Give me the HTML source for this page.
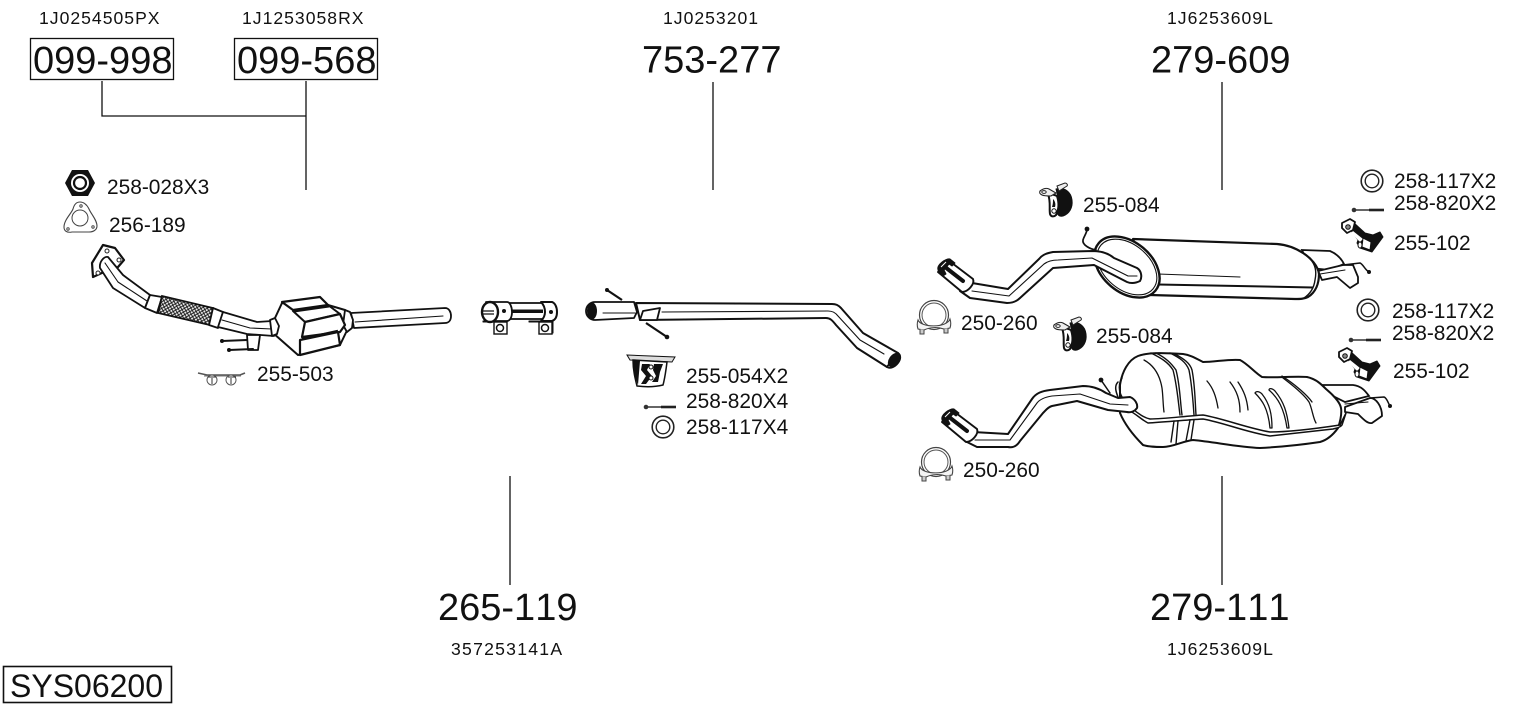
<!DOCTYPE html>
<html>
<head>
<meta charset="utf-8">
<style>
html,body{margin:0;padding:0;background:#fff;}
svg{display:block;position:absolute;left:0;top:0;}
text{font-family:"Liberation Sans",sans-serif;fill:#111;font-kerning:none;}
.s{font-size:17.6px;letter-spacing:1px;}
.m{font-size:20.9px;}
.b{font-size:38px;}
.p{fill:#fff;stroke:#111;stroke-width:1.8;stroke-linejoin:round;stroke-linecap:round;}
.t{fill:none;stroke:#111;stroke-width:1.1;stroke-linecap:round;stroke-linejoin:round;}
.h{fill:none;stroke:#111;stroke-width:2;stroke-linecap:round;stroke-linejoin:round;}
.k{fill:#111;stroke:#111;stroke-width:1;stroke-linejoin:round;}
</style>
</head>
<body>
<svg width="1530" height="711" viewBox="0 0 1530 711" xmlns="http://www.w3.org/2000/svg">
<defs>
<pattern id="mesh" width="4" height="4" patternUnits="userSpaceOnUse" patternTransform="rotate(15)">
<rect width="4" height="4" fill="#eee"/>
<path d="M0 0L4 4M4 0L0 4" stroke="#111" stroke-width=".9"/>
</pattern>
<g id="ring">
<circle r="10.8" fill="#fff" stroke="#222" stroke-width="1.6"/>
<circle r="6.8" fill="#fff" stroke="#222" stroke-width="1.4"/>
</g>
<g id="bolt">
<circle cx="0" cy="0" r="2.300" fill="#333"/>
<path d="M0 0H29" stroke="#333" stroke-width="1.6"/>
<path d="M15 0H30" stroke="#222" stroke-width="2.600"/>
</g>
<g id="hanger">
<path d="M-1 -10C8 -12 14 -7 15 1C16 9 12 15 6 17C2 18 -1 15 0 10L2 2Z" fill="#111" stroke="#111" stroke-linejoin="round"/>
<path d="M-9 -5C-5 -5 -2 -4 0 -3C2 3 2 10 -1 16C-3 18 -6 18 -7 15C-8 9 -6 3 -9 -5Z" fill="#fff" stroke="#111" stroke-width="2" stroke-linejoin="round"/>
<path d="M-4 0C-2 2 -1 5 -2 8L-5 8C-4 5 -4 3 -4 0Z" fill="#111"/>
<path d="M-17 -8C-13 -11 -10 -11 -8 -10L-1 -6L-6 -3C-9 -3 -13 -3 -15 -4C-17 -5 -18 -6 -17 -8Z" fill="#eee" stroke="#222" stroke-width="1.100"/>
<path d="M0 -13L8 -16C10 -16 11 -14 10 -13L2 -8Z" fill="#eee" stroke="#222" stroke-width="1"/>
<ellipse cx="-13" cy="-7" rx="2.200" ry="1.400" fill="#fff" stroke="#222"/>
<circle cx="-3" cy="12" r="2.200" fill="#fff" stroke="#111"/>
</g>
<g id="arm">
<path d="M-3 -10L9 1L17 3L24 0L27 5L16 20L4 16L1 11L2 8L-4 0Z" fill="#111" stroke="#111" stroke-linejoin="round"/>
<path d="M-3 -1L7 7L4 10L-5 1Z" fill="#fff"/>
<path d="M-14 -9L-6 -13L-1 -10L-3 -2L-9 1L-14 -4Z" fill="#fff" stroke="#111" stroke-width="1.800" stroke-linejoin="round"/>
<circle cx="-8" cy="-5" r="2.300" fill="#888" stroke="#111"/>
<path d="M7 6L15 10L14 18L6 15Z" fill="#fff" stroke="#111"/>
<ellipse cx="4" cy="13" rx="2" ry="3" fill="#fff" stroke="#111"/>
</g>
<g id="clamp">
<circle cx="0" cy="0" r="14.500" fill="#fff" stroke="#444" stroke-width="1.200"/>
<circle cx="0" cy="0" r="12" fill="#fff" stroke="#555" stroke-width="1"/>
<path d="M-16 5C-17 8 -17 11 -16 14L-10 15C-4 12 4 12 10 14L16 13C17 10 17 7 16 4C13 13 -13 13 -16 5Z" fill="#f4f4f4" stroke="#444" stroke-width="1.100"/>
<path d="M-14 14V19H-10V15M10 14V18H14V13" fill="#ccc" stroke="#444"/>
</g>
<g id="tip">
<path d="M948 260L973 279C975 284 968 292 962 292L938 272Z" fill="#fff" stroke="#111" stroke-width="1.900" stroke-linejoin="round"/>
<path d="M938 270C936 265 946 258 950 259L955 263L952 266L949 264L944 270L946 274L943 276Z" fill="#111" stroke="#111" stroke-linejoin="round"/>
<path d="M945 267L963 281" stroke="#111" stroke-width="4" stroke-linecap="round"/>
<path d="M941 267L946 262" stroke="#fff" stroke-width="1"/>
</g>
</defs>

<rect width="1530" height="711" fill="#fff"/>

<!-- connectors -->
<path d="M102 81V116H306M306 81V190M713 82V190M1222 82V190M510 476V585M1222 476V585" fill="none" stroke="#111" stroke-width="1.300"/>
<rect x="30.500" y="38.500" width="143" height="41" fill="none" stroke="#111" stroke-width="1.300"/>
<rect x="234.500" y="38.500" width="143" height="41" fill="none" stroke="#111" stroke-width="1.300"/>
<rect x="3.500" y="666.500" width="168" height="36" fill="none" stroke="#111" stroke-width="1.600"/>

<!-- big labels -->
<text class="b" x="33" y="73">099-998</text>
<text class="b" x="237" y="73">099-568</text>
<text class="b" x="642" y="72.500">753-277</text>
<text class="b" x="1151" y="72.500">279-609</text>
<text class="b" x="438" y="620">265-119</text>
<text class="b" x="1150" y="620">279-111</text>
<text x="10" y="697" style="font-size:32px">SYS06200</text>

<!-- small labels -->
<text class="s" x="39" y="24">1J0254505PX</text>
<text class="s" x="242" y="24">1J1253058RX</text>
<text class="s" x="663" y="24">1J0253201</text>
<text class="s" x="1167" y="24">1J6253609L</text>
<text class="s" x="451" y="655" style="letter-spacing:1.250px">357253141A</text>
<text class="s" x="1167" y="655">1J6253609L</text>

<!-- part labels -->
<text class="m" x="107" y="194">258-028X3</text>
<text class="m" x="109" y="232">256-189</text>
<text class="m" x="257" y="381">255-503</text>
<text class="m" x="686" y="383">255-054X2</text>
<text class="m" x="686" y="408">258-820X4</text>
<text class="m" x="686" y="434">258-117X4</text>
<text class="m" x="1083" y="212">255-084</text>
<text class="m" x="1096" y="343">255-084</text>
<text class="m" x="961" y="330">250-260</text>
<text class="m" x="963" y="477">250-260</text>
<text class="m" x="1394" y="188">258-117X2</text>
<text class="m" x="1394" y="210">258-820X2</text>
<text class="m" x="1394" y="250">255-102</text>
<text class="m" x="1392" y="318">258-117X2</text>
<text class="m" x="1392" y="340">258-820X2</text>
<text class="m" x="1393" y="378">255-102</text>

<!-- nut -->
<path d="M65 183L72 170H88L95 183L88 196H72Z" fill="#111"/>
<circle cx="80" cy="183" r="9" fill="#fff"/>
<circle cx="80" cy="183" r="6" fill="none" stroke="#111" stroke-width="2.200"/>

<!-- gasket -->
<path d="M80 202C84 202 87 205 89 209C91 214 97 220 97 226C97 230 93 232 89 232H72C67 233 64 231 64 227C64 220 71 214 73 209C74 205 76 202 80 202Z" fill="#fff" stroke="#444" stroke-width="1.100"/>
<circle cx="80" cy="218" r="8" fill="none" stroke="#444"/>
<circle cx="81" cy="206" r="1.200" fill="none" stroke="#444"/>
<circle cx="68" cy="229" r="1.200" fill="none" stroke="#444"/>
<circle cx="93" cy="227" r="1.200" fill="none" stroke="#444"/>

<!-- front pipe -->
<path d="M93 277L92 263L103 245L115 248L124 260L118 267L104 272Z" fill="#fff" stroke="#111" stroke-width="2.200" stroke-linejoin="round"/>
<circle cx="107" cy="251" r="2" fill="#fff" stroke="#222"/>
<circle cx="119" cy="260" r="2" fill="#fff" stroke="#222"/>
<circle cx="98" cy="273" r="2" fill="#fff" stroke="#222"/>
<path class="p" d="M108 257L123 275L150 295L145 308L113 288L100 268C99 262 104 256 108 257Z"/>
<path class="t" d="M105 263L118 282L147 301"/>
<path class="p" d="M150 295L162 297L157 313L145 308Z"/>
<path d="M162 296L213 308L210 325L158 313Z" fill="url(#mesh)" stroke="#111" stroke-width="1.800"/>
<path class="p" d="M213 308L223 312L218 328L209 325Z"/>
<path class="p" d="M223 312L257 322L272 321L274 336L247 334L218 327Z"/>
<path class="t" d="M222 320L250 328L272 329"/>
<path class="p" d="M247 335H260L258 350H248Z"/>
<path class="h" d="M222 341L247 340M229 350L253 349"/>
<circle cx="222" cy="341" r="2" fill="#111"/><circle cx="229" cy="350" r="2" fill="#111"/>

<!-- outlet pipe -->
<path class="p" d="M351 313L445 308C449 308 451 312 451 316C451 320 449 323 445 323L354 328Z"/>
<path class="t" d="M355 322L443 316"/>
<!-- catalyst -->
<path class="p" d="M275 318L282 303L328 305L345 310L352 320L340 345L298 355L273 333Z" style="stroke-width:2"/>
<path class="p" d="M270 320L275 318L279 326L277 334L272 336Z"/>
<path class="p" d="M345 310L350 312L353 320L352 328L347 332L343 325Z"/>
<path class="p" d="M282 302L320 297L328 305L293 310Z" style="stroke-width:2.200"/>
<path class="p" d="M293 311L328 305L340 314L305 322Z" style="stroke-width:2"/>
<path class="p" d="M305 322L340 314L345 325L340 332L302 337Z" style="stroke-width:2.200"/>
<path class="k" d="M293 310L328 305L329 307L294 312Z"/>
<path class="p" d="M300 340L338 332L340 345L300 355Z" style="stroke-width:2.200"/>
<path d="M302 339L338 331" stroke="#111" stroke-width="2.500"/>

<!-- 255-503 -->
<path d="M198 373L207 375H240L245 373" fill="none" stroke="#555" stroke-width="1.600"/>
<path d="M204 376H241" stroke="#777" stroke-width="1"/>
<circle cx="212" cy="380" r="5" fill="#fff" stroke="#555"/>
<circle cx="231" cy="380" r="5" fill="#fff" stroke="#555"/>
<path d="M208 377H216M228 377H236M212 378V384M231 378V384" stroke="#333"/>

<!-- pipe clamp -->
<path d="M483 322H497V333H507V321H483Z" class="k"/>
<path d="M529 322H541V333H553V321H529Z" class="k"/>
<path d="M508 303H545V319H508Z" fill="#fff" stroke="#111" stroke-width="1.800"/>
<rect x="508" y="309.500" width="35" height="3.500" fill="#111"/>
<path class="p" d="M486 302H507C510 302 512 307 512 312C512 317 510 321 507 321H486Z"/>
<ellipse cx="490" cy="312" rx="8" ry="10" fill="#fff" stroke="#111" stroke-width="2.400"/>
<path d="M482 311H494M482 314H494" stroke="#111" stroke-width="1.300"/>
<path class="p" d="M541 302H552C555 303 557 307 557 312C557 317 555 320 552 321H541C544 318 545 315 545 312C545 308 544 305 541 302Z" style="stroke-width:2"/>
<circle cx="504" cy="311" r="2" fill="#111"/><circle cx="551" cy="312" r="2" fill="#111"/>
<rect x="494" y="322" width="13" height="12" fill="#fff" stroke="#111" stroke-width="1.400"/>
<circle cx="500" cy="328" r="3.500" fill="#fff" stroke="#111" stroke-width="1.500"/>
<rect x="539" y="322" width="13" height="12" fill="#fff" stroke="#111" stroke-width="1.400"/>
<circle cx="545" cy="328" r="3.500" fill="#fff" stroke="#111" stroke-width="1.500"/>

<!-- intermediate pipe -->
<path d="M607 290L622 300" stroke="#111" stroke-width="2.200"/>
<path d="M646 323L667 337" stroke="#111" stroke-width="2.200"/>
<circle cx="607" cy="290" r="2" fill="#111"/><circle cx="667" cy="337" r="2.300" fill="#111"/>
<path class="p" d="M636 303L832 304C836 304 838 305 841 308L863 333L898 353L887 367L857 348L836 325C832 320 830 318 826 318L640 320Z" style="stroke-width:2"/>
<path class="t" d="M662 312L828 311C832 311 835 312 838 316L860 340L884 354"/>
<path class="p" d="M595 302H634L637 312L634 318L595 320C590 320 586 316 586 311C586 306 590 302 595 302Z" style="stroke-width:1.800"/>
<path class="t" d="M603 313H635"/>
<ellipse cx="592" cy="311" rx="5" ry="8.500" fill="#111"/>
<path class="p" d="M643 311L660 308L657 320L640 320Z"/>
<path class="p" d="M887 367C890 369 895 367 898 363C901 359 901 355 898 353Z"/>
<ellipse cx="894" cy="360" rx="5" ry="8" transform="rotate(35 894 360)" fill="#111"/>

<!-- 255-054 -->
<path d="M627 355L675 357L672 362L630 360Z" fill="#ddd" stroke="#111"/>
<path d="M633 360L667 362C666 370 665 378 663 385C655 387 645 387 637 386C635 378 633 370 633 360Z" fill="#fff" stroke="#111" stroke-width="1.500"/>
<path d="M633 360L640 361L638 385C635 378 633 370 633 360Z" fill="#111"/>
<path d="M642 364H650L647 370L652 376L646 384H641L646 376L641 370ZM654 364H663L660 372L658 382H652L656 376L653 370Z" fill="#111"/>
<circle cx="651" cy="367" r="2" fill="#fff" stroke="#111"/>
<circle cx="651" cy="378" r="2" fill="#fff" stroke="#111"/>

<use href="#bolt" x="646" y="407"/>
<use href="#ring" x="663" y="427"/>

<!-- upper rear muffler -->
<path d="M1302 250L1330 251C1337 254 1341 258 1344 264L1330 270L1310 268Z" fill="#fff" stroke="#111" stroke-width="1.800"/>
<path class="p" d="M1318 271L1343 265H1353L1358 277L1358 283L1350 288L1337 277L1322 280Z"/>
<path class="t" d="M1320 274L1345 270"/>
<path class="h" d="M1343 265L1360 263C1363 264 1365 270 1369 272" style="stroke-width:1.500"/>
<circle cx="1369" cy="272" r="2" fill="#111"/>
<path d="M1133 239L1277 244C1289 245 1297 249 1303 253C1311 258 1318 266 1319 274C1319 283 1316 292 1308 297C1304 299 1300 299 1295 299L1150 295Z" fill="#fff" stroke="#111" stroke-width="2.200" stroke-linejoin="round"/>
<path class="t" d="M1158 274C1190 275 1215 276 1240 277"/>
<path d="M1158 284.500L1313 287.500" stroke="#111" stroke-width="2"/>
<path d="M1302 252C1312 259 1318 266 1315 280C1314 288 1310 294 1304 298" fill="none" stroke="#111" stroke-width="1.400"/>
<ellipse cx="1127" cy="267" rx="37" ry="25" transform="rotate(40 1127 267)" fill="#fff" stroke="#111" stroke-width="2.400"/>
<ellipse cx="1127" cy="267" rx="34" ry="22.500" transform="rotate(40 1127 267)" fill="none" stroke="#111" stroke-width="1.100"/>
<path class="h" d="M1087 229C1087 233 1084 236 1083 240C1082 245 1090 249 1096 250" style="stroke-width:1.700"/>
<circle cx="1087" cy="229" r="2.400" fill="#111"/>
<path class="p" d="M972 283L1008 289L1039 259C1043 254 1048 253 1053 252L1093 251C1100 251 1108 253 1114 258L1137 268C1142 271 1142 278 1140 281C1136 283 1132 284 1127 282L1094 265L1053 268L1020 298C1016 302 1011 303 1007 303L970 298L960 291Z" style="stroke-width:2"/>
<path class="t" d="M972 291L1009 296L1044 264C1048 261 1052 260 1058 260L1092 258L1128 276L1137 276"/>
<use href="#tip"/>

<!-- lower rear muffler -->
<path d="M1318 385H1353C1362 386 1366 392 1369 396L1345 402L1325 392Z" fill="#fff" stroke="#111" stroke-width="1.800"/>
<path class="p" d="M1345 407L1370 398C1376 398 1382 406 1382 416L1372 423C1368 424 1364 420 1358 414L1345 412Z"/>
<path class="t" d="M1345 404L1368 402"/>
<path class="h" d="M1370 398L1384 397C1387 398 1388 403 1390 406" style="stroke-width:1.500"/>
<circle cx="1390" cy="406" r="2" fill="#111"/>
<path d="M1120 385C1122 372 1128 360 1138 356C1148 352 1168 353 1183 354C1191 355 1197 359 1203 362C1215 362 1228 359 1240 360C1248 364 1255 373 1262 377C1275 378 1295 376 1307 377C1316 379 1321 384 1326 389C1332 394 1340 402 1341 408C1342 414 1340 422 1338 428C1333 435 1327 440 1320 442C1300 445 1280 447 1260 448C1237 447 1215 442 1193 440C1183 441 1173 447 1163 447C1156 447 1149 447 1143 445C1135 437 1125 425 1120 413Z" fill="#fff" stroke="#111" stroke-width="2" stroke-linejoin="round"/>
<path class="p" d="M1132 408C1138 414 1145 418 1150 419C1165 419 1185 416 1203 415C1225 419 1247 428 1270 432C1290 432 1320 428 1340 425L1346 413L1342 425C1340 428 1336 428 1333 429L1270 436C1245 432 1225 423 1203 419C1185 420 1165 422 1148 423C1142 420 1136 414 1130 411Z" style="stroke-width:1.500"/>
<path class="h" d="M1151 353C1161 358 1168 362 1173 370C1177 385 1178 400 1180 415M1156 353C1166 358 1171 363 1176 370C1180 385 1180 400 1182 415M1170 353C1180 358 1186 362 1189 370C1192 385 1193 400 1194 415M1175 354C1184 359 1190 363 1192 370C1195 385 1195 400 1196 415" style="stroke-width:1.400"/>
<path class="h" d="M1174 421L1171 442M1178 421L1176 444M1190 420L1186 441M1194 420L1191 440" style="stroke-width:1.400"/>
<path class="h" d="M1144 360C1155 366 1160 376 1162 388C1163 395 1163 405 1164 412" style="stroke-width:1.300"/>
<path class="h" d="M1207 381C1213 388 1216 396 1218 408M1230 382C1237 391 1240 400 1240 412 M1238 382C1244 391 1247 399 1248 410" style="stroke-width:1.300"/>
<path class="h" d="M1255 393C1262 400 1268 408 1270 428L1272 428C1272 415 1270 404 1262 394C1259 391 1256 391 1255 393Z" style="stroke-width:1.300"/>
<path class="h" d="M1269 390C1278 398 1284 408 1287 428L1289 428C1287 412 1284 402 1275 391C1272 388 1269 388 1269 390Z" style="stroke-width:1.300"/>
<path class="h" d="M1283 378C1295 387 1305 396 1309 402C1312 408 1313 418 1316 423M1282 376C1296 385 1308 396 1312 402" style="stroke-width:1.300"/>
<path class="p" d="M973 432L1008 434L1032 399C1036 393 1042 391 1050 390L1083 386C1092 386 1100 389 1106 393L1118 398L1130 397C1135 399 1138 404 1137 408C1135 411 1131 413 1127 412L1108 410L1077 401L1052 406C1048 407 1046 410 1043 413L1020 441C1017 446 1013 448 1008 447L977 447L965 441Z" style="stroke-width:2"/>
<path class="t" d="M975 440H1010L1037 403C1040 399 1046 397 1052 396L1080 394L1110 404L1128 405"/>
<path class="h" d="M1101 380L1110 393M1118 382C1114 386 1116 392 1118 397M1122 378C1118 384 1119 392 1122 397" style="stroke-width:1.500"/>
<circle cx="1101" cy="380" r="2.400" fill="#111"/>
<use href="#tip" x="4" y="150"/>

<!-- hangers -->
<use href="#hanger" x="1057" y="199"/>
<use href="#hanger" x="1071" y="333"/>

<!-- right column -->
<use href="#ring" x="1372" y="181"/>
<use href="#ring" x="1368" y="310"/>
<use href="#bolt" x="1354" y="210"/>
<use href="#bolt" x="1351" y="340"/>
<use href="#arm" x="1356" y="232"/>
<use href="#arm" x="1353" y="361"/>

<!-- clamps -->
<use href="#clamp" x="934" y="315"/>
<use href="#clamp" x="936" y="462"/>
</svg>
</body>
</html>
